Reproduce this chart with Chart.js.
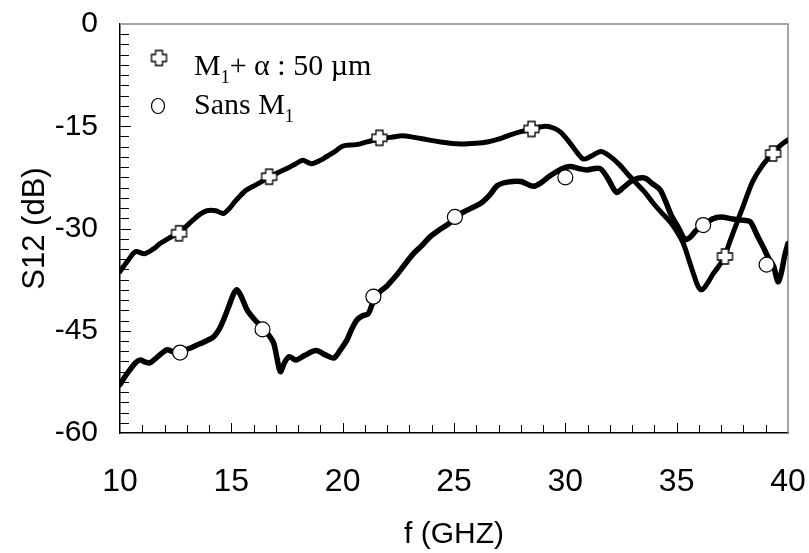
<!DOCTYPE html>
<html>
<head>
<meta charset="utf-8">
<script src="https://cdn.jsdelivr.net/npm/chart.js@4.4.1/dist/chart.umd.min.js"></script>
<style>
  body { margin: 0; background: #fff; }
  #s12Graph { display: block; }
</style>
</head>
<body>
<canvas id="s12Graph" width="809" height="553"></canvas>
<script>
// S12 vs frequency, with and without the M1 metal layer
let xTicks = [10, 15, 20, 25, 30, 35, 40];
let yTicks = [0, -15, -30, -45, -60];

// M1 + alpha : 50 um
let freqM1 = [10.0, 10.4, 10.7, 11.1, 11.5, 11.8, 12.2, 12.65, 13.0, 13.3, 13.6, 13.9, 14.3, 14.65, 14.9,
    15.1, 15.4, 15.7, 16.1, 16.7, 17.1, 17.5, 17.9, 18.2, 18.6, 19.0, 19.3, 19.7, 20.0, 20.6, 21.1, 21.6,
    22.2, 22.7, 23.5, 24.4, 25.3, 26.0, 26.5, 27.0, 27.5, 28.0, 28.5, 29.1, 29.5, 29.8, 30.1, 30.4, 30.8,
    31.1, 31.6, 32.0, 32.45, 32.8, 33.2, 33.6, 33.95, 34.3, 34.7, 35.0, 35.3, 35.55, 35.75, 35.95, 36.12,
    36.35, 36.65, 36.9, 37.15, 37.4, 37.7, 38.0, 38.4, 38.8, 39.3, 39.7, 40.0];
let s12M1 = [-36.3, -34.5, -33.4, -33.7, -33.0, -32.2, -31.4, -30.6, -29.6, -28.7, -27.9, -27.4, -27.4, -27.8, -27.1,
    -26.3, -25.2, -24.3, -23.6, -22.5, -21.8, -21.2, -20.5, -20.0, -20.5, -20.0, -19.4, -18.6, -17.9, -17.7, -17.3, -16.9,
    -16.6, -16.4, -16.8, -17.3, -17.6, -17.5, -17.3, -16.9, -16.3, -15.8, -15.4, -15.0, -15.3, -15.9, -17.0, -18.3, -19.8,
    -19.5, -18.7, -19.4, -20.7, -22.0, -23.4, -24.8, -26.3, -27.6, -29.0, -30.4, -32.2, -34.6, -36.6, -38.4, -39.0,
    -38.2, -36.6, -35.5, -34.1, -31.8, -29.2, -26.6, -23.2, -21.0, -19.0, -17.7, -17.0];
let markFreqM1 = [12.65, 16.7, 21.65, 28.48, 37.17, 39.33];
let markS12M1 = [-30.7, -22.4, -16.7, -15.4, -34.1, -19.0];

// Sans M1
let freqSans = [10.0, 10.25, 10.45, 10.7, 10.9, 11.15, 11.35, 11.7, 12.1, 12.4, 12.7, 13.1, 13.45, 13.8, 14.2,
    14.45, 14.65, 14.9, 15.1, 15.25, 15.45, 15.7, 16.0, 16.4, 16.7, 16.9, 17.05, 17.2, 17.4, 17.6, 17.9, 18.3,
    18.8, 19.2, 19.6, 19.9, 20.2, 20.4, 20.65, 20.9, 21.15, 21.4, 21.7, 22.0, 22.3, 22.6, 22.9, 23.2, 23.5,
    23.9, 24.3, 24.8, 25.1, 25.6, 26.2, 26.6, 26.95, 27.4, 28.0, 28.55, 28.9, 29.3, 29.8, 30.2, 30.6, 30.95,
    31.55, 31.9, 32.3, 32.6, 33.05, 33.55, 33.9, 34.25, 34.5, 34.75, 35.1, 35.37, 35.6, 35.9, 36.2, 36.6,
    37.0, 37.5, 38.0, 38.3, 38.6, 38.9, 39.15, 39.35, 39.55, 39.7, 39.85, 40.0];
let s12Sans = [-52.9, -51.6, -50.7, -49.7, -49.3, -49.6, -49.7, -48.8, -47.8, -48.1, -48.0, -47.6, -47.1, -46.6, -45.9,
    -44.8, -43.4, -41.3, -39.6, -39.0, -40.0, -41.9, -43.2, -44.6, -45.7, -46.8, -49.0, -51.0, -49.6, -48.8, -49.3, -48.6,
    -47.9, -48.5, -49.0, -47.8, -46.3, -44.8, -43.4, -42.8, -42.5, -40.5, -39.2, -38.4, -37.3, -36.1, -34.8, -33.6, -32.7,
    -31.3, -30.3, -29.2, -28.2, -27.3, -26.3, -25.1, -23.7, -23.2, -23.1, -23.8, -23.3, -22.3, -21.3, -20.9, -21.2, -21.4,
    -21.2, -22.6, -24.7, -24.0, -22.9, -22.6, -23.4, -24.3, -26.0, -28.0, -30.0, -31.6, -31.3, -30.2, -29.6, -28.6,
    -28.3, -28.6, -28.8, -29.0, -30.9, -32.8, -34.5, -35.5, -37.8, -36.5, -34.0, -32.2];
let markFreqSans = [12.7, 16.4, 21.38, 25.04, 30.0, 36.19, 39.04];
let markS12Sans = [-48.2, -44.8, -40.0, -28.3, -22.5, -29.5, -35.3];

function toPoints(xs, ys) {
    return xs.map((x, i) => ({ x: x, y: ys[i] }));
}

// outlined plus sign used as the M1 marker
function makeCross() {
    let c = document.createElement('canvas');
    c.width = 19;
    c.height = 19;
    let g = c.getContext('2d');
    let a = 3.5, r = 7.5, m = 9.5;
    let pts = [[-a, -r], [a, -r], [a, -a], [r, -a], [r, a], [a, a], [a, r], [-a, r], [-a, a], [-r, a], [-r, -a], [-a, -a]];
    g.beginPath();
    pts.forEach((p, i) => i ? g.lineTo(m + p[0], m + p[1]) : g.moveTo(m + p[0], m + p[1]));
    g.closePath();
    g.fillStyle = '#fff';
    g.fill();
    g.lineWidth = 1.3;
    g.strokeStyle = '#000';
    g.stroke();
    return c;
}
let crossImg = makeCross();

// inward tick marks plus the grey top/right frame
let frameTicks = {
    id: 'frameTicks',
    beforeDatasetsDraw(chart) {
        let { ctx, chartArea: { left, right, top, bottom }, scales: { x, y } } = chart;
        ctx.save();
        ctx.strokeStyle = '#888';
        ctx.lineWidth = 1.5;
        ctx.beginPath();
        ctx.moveTo(left, top);
        ctx.lineTo(right, top);
        ctx.lineTo(right, bottom);
        ctx.stroke();

        ctx.strokeStyle = '#000';
        ctx.lineWidth = 1;
        ctx.beginPath();
        for (let f = 11; f < 40; f++) {
            let px = Math.round(x.getPixelForValue(f)) + 0.5;
            let len = f % 5 === 0 ? 10 : 8;
            ctx.moveTo(px, bottom);
            ctx.lineTo(px, bottom - len);
        }
        for (let k = 1; k < 40; k++) {
            let v = -1.5 * k;
            let py = Math.round(y.getPixelForValue(v)) + 0.5;
            let len = k % 10 === 0 ? 11 : 9;
            ctx.moveTo(left, py);
            ctx.lineTo(left + len, py);
        }
        ctx.stroke();
        ctx.restore();
    },
    afterDraw(chart) {
        let ctx = chart.ctx;
        ctx.save();
        ctx.drawImage(crossImg, 159 - 9.5, 58 - 9.5);
        ctx.beginPath();
        ctx.ellipse(158, 106, 6.5, 7.5, 0, 0, Math.PI * 2);
        ctx.fillStyle = '#fff';
        ctx.fill();
        ctx.lineWidth = 1.2;
        ctx.strokeStyle = '#000';
        ctx.stroke();

        ctx.fillStyle = '#000';
        ctx.textBaseline = 'alphabetic';
        let big = '30px "Liberation Serif", "Times New Roman", serif';
        let small = '18px "Liberation Serif", "Times New Roman", serif';
        let drawRuns = (runs, x0, base) => {
            let cx = x0;
            runs.forEach(r => {
                ctx.font = r[1] ? small : big;
                ctx.fillText(r[0], cx, base + (r[1] ? 8 : 0));
                cx += ctx.measureText(r[0]).width;
            });
        };
        drawRuns([['M', false], ['1', true], ['+ \u03b1 : 50 \u00b5m', false]], 194, 75);
        drawRuns([['Sans M', false], ['1', true]], 194, 114);
        ctx.restore();
    }
};

let ctx = document.getElementById('s12Graph');
let s12Chart = new Chart(ctx, {
    type: 'line',
    data: {
        datasets: [{
            data: toPoints(markFreqM1, markS12M1),
            showLine: false,
            pointStyle: crossImg,
            pointRadius: 8,
            order: 0
        }, {
            data: toPoints(markFreqSans, markS12Sans),
            showLine: false,
            pointStyle: 'circle',
            pointRadius: 7.5,
            pointBackgroundColor: '#fff',
            pointBorderColor: '#000',
            pointBorderWidth: 1.2,
            order: 0
        }, {
            data: toPoints(freqM1, s12M1),
            borderColor: '#000',
            borderWidth: 5,
            pointRadius: 0,
            tension: 0.3,
            borderCapStyle: 'round',
            borderJoinStyle: 'round',
            order: 1
        }, {
            data: toPoints(freqSans, s12Sans),
            borderColor: '#000',
            borderWidth: 5.5,
            pointRadius: 0,
            tension: 0.3,
            borderCapStyle: 'round',
            borderJoinStyle: 'round',
            order: 1
        }]
    },
    options: {
        responsive: false,
        animation: false,
        devicePixelRatio: 1,
        layout: { padding: { left: 0, top: 24, right: 21, bottom: 0 } },
        plugins: {
            legend: { display: false },
            tooltip: { enabled: false }
        },
        scales: {
            x: {
                type: 'linear',
                min: 10,
                max: 40,
                afterBuildTicks: scale => { scale.ticks = xTicks.map(v => ({ value: v })); },
                afterFit: scale => {
                    scale.height = 120;
                    scale.paddingLeft = 0;
                    scale.paddingRight = 0;
                },
                grid: { display: false, drawTicks: false },
                border: { display: true, color: '#000', width: 1.5 },
                ticks: {
                    color: '#000',
                    padding: 30,
                    maxRotation: 0,
                    font: { family: '"Liberation Sans", Arial, sans-serif', size: 32 }
                },
                title: {
                    display: true,
                    text: 'f (GHZ)',
                    color: '#000',
                    padding: { top: 0, bottom: 0 },
                    font: { family: '"Liberation Sans", Arial, sans-serif', size: 30 }
                }
            },
            y: {
                min: -60,
                max: 0,
                afterBuildTicks: scale => { scale.ticks = yTicks.map(v => ({ value: v })); },
                afterFit: scale => {
                    scale.width = 120;
                    scale.paddingTop = 0;
                    scale.paddingBottom = 0;
                },
                grid: { display: false, drawTicks: false },
                border: { display: true, color: '#000', width: 1.5 },
                ticks: {
                    color: '#000',
                    padding: 22,
                    font: { family: '"Liberation Sans", Arial, sans-serif', size: 30 }
                },
                title: {
                    display: true,
                    text: 'S12 (dB)',
                    color: '#000',
                    padding: { top: 17, bottom: 0 },
                    font: { family: '"Liberation Sans", Arial, sans-serif', size: 31 }
                }
            }
        }
    },
    plugins: [frameTicks]
});
</script>
</body>
</html>
